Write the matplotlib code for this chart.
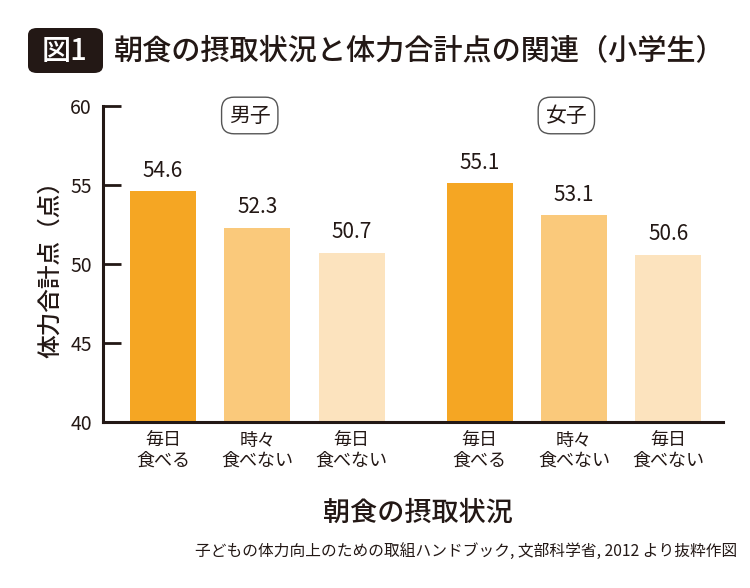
import numpy as np
import matplotlib
matplotlib.use("Agg")
from matplotlib import pyplot as plt
from matplotlib.patches import FancyBboxPatch

plt.rcParams['font.family'] = ['Noto Sans CJK JP', 'DejaVu Sans']

# データ
groups = ["男子", "女子"]
categories = ["毎日\n食べる", "時々\n食べない", "毎日\n食べない"]
boys = [54.6, 52.3, 50.7]
girls = [55.1, 53.1, 50.6]
colors = ["#F5A623", "#FAC97B", "#FCE3BE"]
y_ticks = [40, 45, 50, 55, 60]

ink = "#231815"

fig = plt.figure(figsize=(7.5, 5.88), dpi=100)
ax = fig.add_axes([103 / 750, 1 - 422 / 588, 620 / 750, 316 / 588])

gap = 1.355
xs = np.concatenate([np.arange(3), np.arange(3) + gap + 2])
vals = boys + girls
bars = ax.bar(xs, vals, width=0.70, color=colors * 2, zorder=2)
for x, v in zip(xs, vals):
    ax.text(x, v + 0.6, f"{v:.1f}", ha="center", va="bottom", fontsize=15, color=ink)

ax.set_ylim(40, 60)
ax.set_xlim(-0.635, xs[-1] + 0.58)
ax.set_yticks(y_ticks)
ax.set_xticks(xs)
ax.set_xticklabels(categories * 2, fontsize=13, color=ink, linespacing=1.15)
ax.tick_params(axis="y", direction="in", length=13, width=2, color=ink, pad=8,
               labelsize=14, labelcolor=ink)
ax.tick_params(axis="x", length=0, pad=7)
for s in ["top", "right"]:
    ax.spines[s].set_visible(False)
for s in ["left", "bottom"]:
    ax.spines[s].set_linewidth(2.2)
    ax.spines[s].set_color(ink)

# 男子 / 女子 ラベル
for gx, g in zip([1, 1 + gap + 2], groups):
    ax.text(gx - 0.08, 59.4, g, ha="center", va="center", fontsize=15, color=ink,
            bbox=dict(boxstyle="round,pad=0.35,rounding_size=0.6", fc="white",
                      ec="#555555", lw=1))

ax.set_ylabel("体力合計点（点）", fontsize=17, color=ink, labelpad=6, weight="medium")
fig.text(418 / 750, 1 - 513 / 588, "朝食の摂取状況", ha="center", va="center",
         fontsize=19.5, weight="medium", color=ink)

# タイトル
box = FancyBboxPatch((28 / 750, 1 - 73 / 588), 75 / 750, 45 / 588,
                     boxstyle="round,pad=0,rounding_size=0.012",
                     transform=fig.transFigure, fc=ink, ec="none")
fig.patches.append(box)
fig.text(65 / 750, 1 - 51 / 588, "図1", ha="center", va="center", fontsize=21,
         weight="medium", color="white")
fig.text(114 / 750, 1 - 51 / 588, "朝食の摂取状況と体力合計点の関連（小学生）",
         ha="left", va="center", fontsize=21, weight="medium", color=ink)

fig.text(737 / 750, 1 - 551 / 588,
         "子どもの体力向上のための取組ハンドブック, 文部科学省, 2012 より抜粋作図",
         ha="right", va="center", fontsize=11.3, color=ink)

fig.savefig("out.png", dpi=100, facecolor="white")
